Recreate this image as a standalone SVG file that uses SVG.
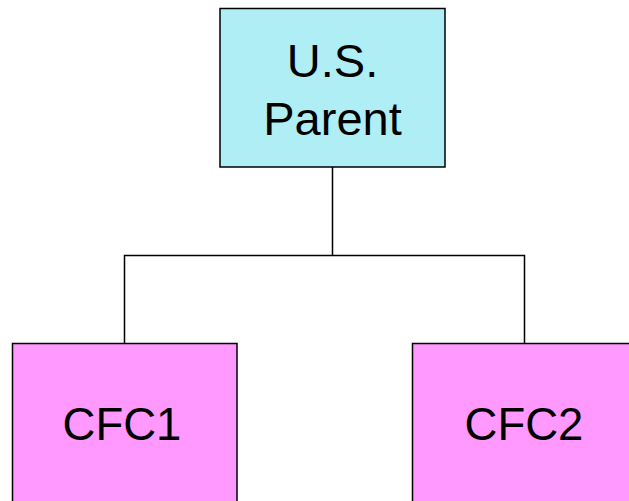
<svg xmlns="http://www.w3.org/2000/svg" width="629" height="501" viewBox="0 0 629 501">
<style>
.box{stroke:#000;stroke-width:1.5}
.lbl{font-family:"Liberation Sans",Arial,sans-serif;font-size:45.5px;fill:#000;text-anchor:middle}
.big{font-size:47px}
.conn{fill:none;stroke:#000;stroke-width:1.5}
</style>
<rect width="629" height="501" fill="#fff"/>
<g id="connectors">
<path class="conn" d="M332.5,167 V255.5 M124.5,343 V255.5 H524.5 V343"/>
</g>
<g id="parent">
<rect class="box" x="220" y="8.5" width="225" height="158.5" fill="#AFEEF5"/>
<text class="lbl big" x="332.5" y="77">U.S.</text>
<text class="lbl big" x="332.5" y="135">Parent</text>
</g>
<g id="cfc1">
<rect class="box" x="12.5" y="343.5" width="224.5" height="170" fill="#FF99FF"/>
<text class="lbl" x="122" y="440">CFC1</text>
</g>
<g id="cfc2">
<rect class="box" x="412.5" y="343.5" width="230" height="170" fill="#FF99FF"/>
<text class="lbl" x="524" y="440">CFC2</text>
</g>
</svg>
